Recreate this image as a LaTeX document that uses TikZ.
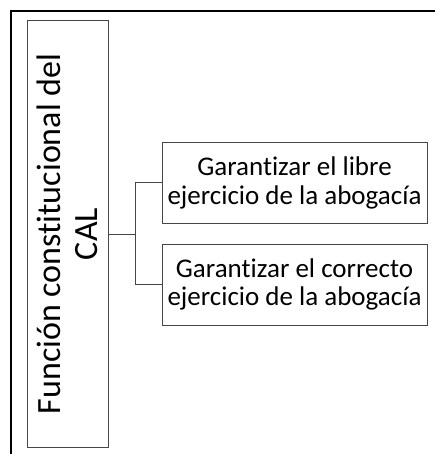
\documentclass[tikz,border=0pt]{standalone}
\usepackage{fontspec}
\setmainfont[RawFeature=-liga]{Carlito}
\usetikzlibrary{positioning}

\begin{document}
\begin{tikzpicture}[x=1pt, y=-1pt,
  caja/.style={draw=gray!55!black, line width=1pt, fill=white, align=center, inner sep=0pt},
  linea/.style={draw=gray!55!black, line width=1pt}]
\useasboundingbox (0,0) rectangle (434,454);
% marco exterior
\draw[line width=2.5pt] (11,470) -- (11,11) -- (450,11);

\node[caja, rotate=90, minimum width=426pt, minimum height=81pt,
      font=\fontsize{34}{37}\selectfont] (funcion) at (67.5,234)
      {Función constitucional del\\CAL};
\node[caja, minimum width=265pt, minimum height=80pt,
      font=\fontsize{27}{28.5}\selectfont] (libre) at (294.5,183)
      {Garantizar el libre\\ejercicio de la abogacía};
\node[caja, minimum width=265pt, minimum height=81pt,
      font=\fontsize{27}{28.5}\selectfont] (correcto) at (294.5,284.5)
      {Garantizar el correcto\\ejercicio de la abogacía};

\coordinate (rama) at (135,234);
\draw[linea] (funcion.south) -- (rama);
\draw[linea] (rama) |- (libre.west);
\draw[linea] (rama) |- (correcto.west);
\end{tikzpicture}
\end{document}
